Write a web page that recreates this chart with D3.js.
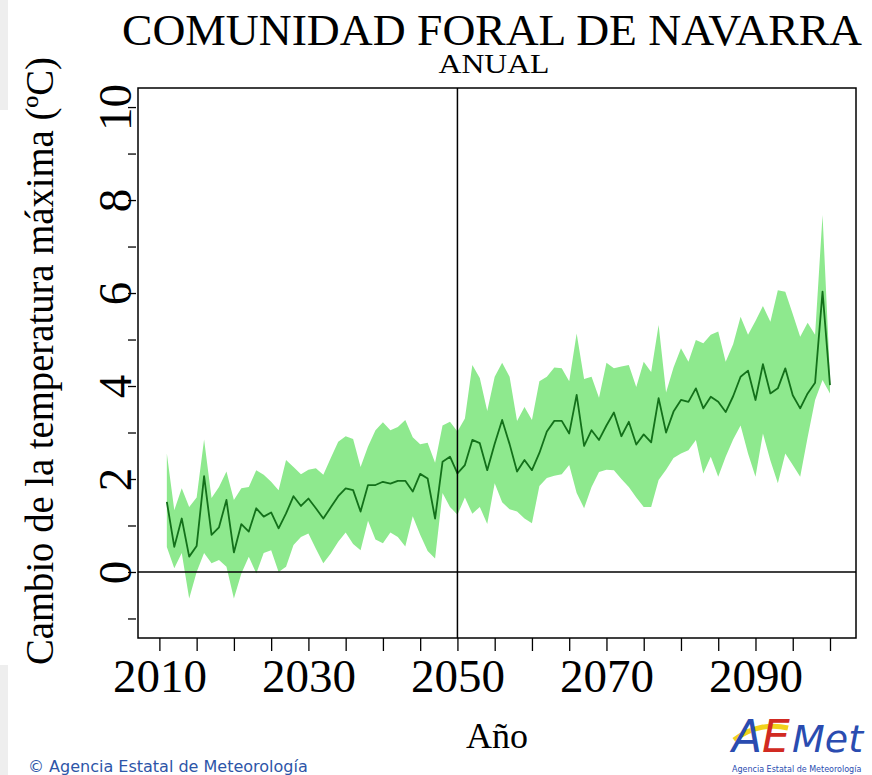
<!DOCTYPE html>
<html>
<head>
<meta charset="utf-8">
<script src="https://cdn.jsdelivr.net/npm/d3@7"></script>
<style>
body { margin: 0; background: #fff; }
svg { display: block; }
</style>
</head>
<body>
<svg id="svg1"></svg>
<script>
var years = d3.range(2011, 2101);

// media del conjunto (cambio temperatura maxima, ºC)
var media = [1.51,0.54,1.15,0.33,0.56,2.06,0.80,0.96,1.55,0.42,
             1.03,0.87,1.37,1.19,1.28,0.94,1.26,1.63,1.42,1.58,
             1.37,1.15,1.39,1.63,1.80,1.76,1.30,1.87,1.87,1.94,
             1.90,1.96,1.96,1.73,2.11,2.01,1.15,2.37,2.48,2.12,
             2.30,2.84,2.77,2.19,2.76,3.27,2.75,2.16,2.41,2.19,
             2.56,3.02,3.25,3.25,2.98,3.81,2.71,3.05,2.84,3.15,
             3.43,2.92,3.23,2.74,2.96,2.79,3.74,3.00,3.45,3.70,
             3.66,3.95,3.52,3.77,3.66,3.44,3.78,4.20,4.33,3.70,
             4.47,3.84,3.95,4.38,3.80,3.52,3.84,4.07,6.03,4.02];

var superior = [2.55,1.33,1.80,1.40,1.60,2.85,1.59,1.83,2.16,1.55,
                1.80,1.83,2.19,2.09,1.94,1.76,2.41,2.26,2.10,2.20,
                2.23,2.09,2.45,2.80,2.92,2.86,2.26,2.70,3.05,3.22,
                3.05,3.12,3.27,2.90,2.75,2.78,2.35,3.15,3.23,3.02,
                3.30,4.45,4.17,3.46,4.20,4.50,4.20,3.25,3.55,3.27,
                4.10,4.20,4.40,4.38,4.10,5.13,4.15,4.20,3.75,4.50,
                4.38,4.42,4.45,3.98,4.52,4.30,5.31,3.86,4.40,4.81,
                4.52,4.99,4.92,5.10,5.17,4.52,4.90,5.49,5.10,5.40,
                5.72,5.38,6.06,6.03,5.55,5.06,5.36,5.10,7.68,4.20];

var inferior = [0.54,0.08,0.41,-0.57,0.00,0.41,0.19,0.26,0.11,-0.57,
                -0.03,0.33,-0.03,0.41,0.47,0.00,0.11,0.58,0.75,0.83,
                0.50,0.19,0.40,0.65,0.85,0.60,0.47,1.10,0.70,0.62,
                0.85,0.75,0.55,1.20,0.80,0.45,0.29,1.70,1.40,1.23,
                1.60,1.25,1.40,1.03,1.91,1.50,1.35,1.30,1.15,1.05,
                1.85,2.02,2.07,2.10,2.30,1.70,1.37,1.83,2.15,2.20,
                2.19,2.00,1.83,1.60,1.40,1.40,1.98,2.20,2.45,2.55,
                2.62,2.84,2.12,2.48,2.05,2.48,2.85,3.15,2.55,2.05,
                2.98,2.40,1.91,2.55,2.30,2.05,2.90,3.70,4.13,3.84];

var xTicks = d3.range(2010, 2101, 5);
var xLabels = [2010, 2030, 2050, 2070, 2090];
var yTicks = d3.range(-1, 11);
var yLabels = [0, 2, 4, 6, 8, 10];

var data = years.map(function(y, i) {
    return {year: y, med: media[i], hi: superior[i], lo: inferior[i]};
});

var svg = d3.select('#svg1').attr('width', 872).attr('height', 775);
svg.append('rect').attr('width', 872).attr('height', 775).attr('fill', '#fff');
svg.append('rect').attr('x', 0).attr('y', 0).attr('width', 8).attr('height', 110).attr('fill', '#eeeeee');
svg.append('rect').attr('x', 0).attr('y', 665).attr('width', 8).attr('height', 110).attr('fill', '#eeeeee');

var pLeft = 138, pRight = 856, pTop = 88, pBottom = 638;

var x = d3.scaleLinear().domain([2007.13, 2103.49]).range([pLeft, pRight]);
var y = d3.scaleLinear().domain([-1.42, 10.41]).range([pBottom, pTop]);

var area = d3.area()
    .x(function(d) { return x(d.year); })
    .y0(function(d) { return y(d.lo); })
    .y1(function(d) { return y(d.hi); });

var line = d3.line()
    .x(function(d) { return x(d.year); })
    .y(function(d) { return y(d.med); });

svg.append('path').datum(data)
    .attr('d', area)
    .attr('fill', '#8ee98e');

svg.append('path').datum(data)
    .attr('d', line)
    .attr('fill', 'none')
    .attr('stroke', '#13701a')
    .attr('stroke-width', 1.8)
    .attr('stroke-linejoin', 'round');

// lineas de referencia
svg.append('line')
    .attr('x1', pLeft).attr('x2', pRight)
    .attr('y1', y(0)).attr('y2', y(0))
    .attr('stroke', '#000').attr('stroke-width', 1.5);
svg.append('line')
    .attr('x1', x(2050)).attr('x2', x(2050))
    .attr('y1', pTop).attr('y2', pBottom)
    .attr('stroke', '#000').attr('stroke-width', 1.5);

svg.append('rect')
    .attr('x', pLeft).attr('y', pTop)
    .attr('width', pRight - pLeft).attr('height', pBottom - pTop)
    .attr('fill', 'none').attr('stroke', '#000').attr('stroke-width', 1.5);

var xAxis = d3.axisBottom(x)
    .tickValues(xTicks)
    .tickSize(13)
    .tickPadding(8)
    .tickFormat(function(d) { return xLabels.indexOf(d) >= 0 ? d : ''; });

var gx = svg.append('g')
    .attr('transform', 'translate(0,' + pBottom + ')')
    .call(xAxis);
gx.select('.domain').remove();
gx.selectAll('line').attr('stroke', '#000').attr('stroke-width', 1.3);
gx.selectAll('text')
    .attr('fill', '#000')
    .style('font-family', '"Liberation Serif", "DejaVu Serif", serif')
    .style('font-size', '47px');

var yAxis = d3.axisLeft(y)
    .tickValues(yTicks)
    .tickSize(8)
    .tickFormat(function(d) { return yLabels.indexOf(d) >= 0 ? d : ''; });

var gy = svg.append('g')
    .attr('transform', 'translate(' + (pLeft - 2) + ',0)')
    .call(yAxis);
gy.select('.domain').remove();
gy.selectAll('line').attr('stroke', '#000').attr('stroke-width', 1.3);
gy.selectAll('text')
    .attr('fill', '#000')
    .attr('transform', 'rotate(-90)')
    .attr('x', 0)
    .attr('y', -5)
    .attr('dy', 0)
    .attr('text-anchor', 'middle')
    .style('font-family', '"Liberation Serif", "DejaVu Serif", serif')
    .style('font-size', '47px');

// titulos
svg.append('text')
    .attr('x', 492).attr('y', 45)
    .attr('text-anchor', 'middle')
    .attr('textLength', 740).attr('lengthAdjust', 'spacingAndGlyphs')
    .style('font-family', '"Liberation Serif", serif')
    .style('font-size', '44px')
    .text('COMUNIDAD FORAL DE NAVARRA');

svg.append('text')
    .attr('x', 494).attr('y', 73)
    .attr('text-anchor', 'middle')
    .attr('textLength', 111).attr('lengthAdjust', 'spacingAndGlyphs')
    .style('font-family', '"Liberation Serif", serif')
    .style('font-size', '27px')
    .text('ANUAL');

svg.append('text')
    .attr('x', 497).attr('y', 748)
    .attr('text-anchor', 'middle')
    .style('font-family', '"Liberation Serif", serif')
    .style('font-size', '36px')
    .text('Año');

svg.append('text')
    .attr('transform', 'translate(53,361) rotate(-90)')
    .attr('text-anchor', 'middle')
    .attr('textLength', 608).attr('lengthAdjust', 'spacingAndGlyphs')
    .style('font-family', '"Liberation Serif", serif')
    .style('font-size', '40px')
    .text('Cambio de la temperatura máxima (ºC)');

// pie
svg.append('text')
    .attr('x', 28).attr('y', 772)
    .attr('fill', '#2d55a8')
    .style('font-family', '"DejaVu Sans", sans-serif')
    .style('font-size', '16px')
    .text('© Agencia Estatal de Meteorología');

// logo AEMet
var logo = svg.append('g').attr('transform', 'translate(732,752)');
logo.append('path')
    .attr('d', 'M2,-12 C20,-26 40,-28 56,-24')
    .attr('fill', 'none').attr('stroke', '#f2d21c').attr('stroke-width', 5);
logo.append('text').attr('x', 0).attr('y', 0)
    .attr('fill', '#2a4cb0')
    .style('font-family', '"DejaVu Sans", sans-serif').style('font-style', 'italic')
    .style('font-size', '44px').text('A');
logo.append('text').attr('x', 30).attr('y', 0)
    .attr('fill', '#d12a22')
    .style('font-family', '"DejaVu Sans", sans-serif').style('font-style', 'italic')
    .style('font-size', '44px').text('E');
logo.append('text').attr('x', 60).attr('y', 0)
    .attr('fill', '#2a4cb0')
    .style('font-family', '"DejaVu Sans", sans-serif').style('font-style', 'italic')
    .style('font-size', '38px').text('Met');
logo.append('text').attr('x', 0).attr('y', 20)
    .attr('fill', '#2a4cb0')
    .style('font-family', '"DejaVu Sans", sans-serif')
    .style('font-size', '8px').text('Agencia Estatal de Meteorología');
</script>
</body>
</html>
